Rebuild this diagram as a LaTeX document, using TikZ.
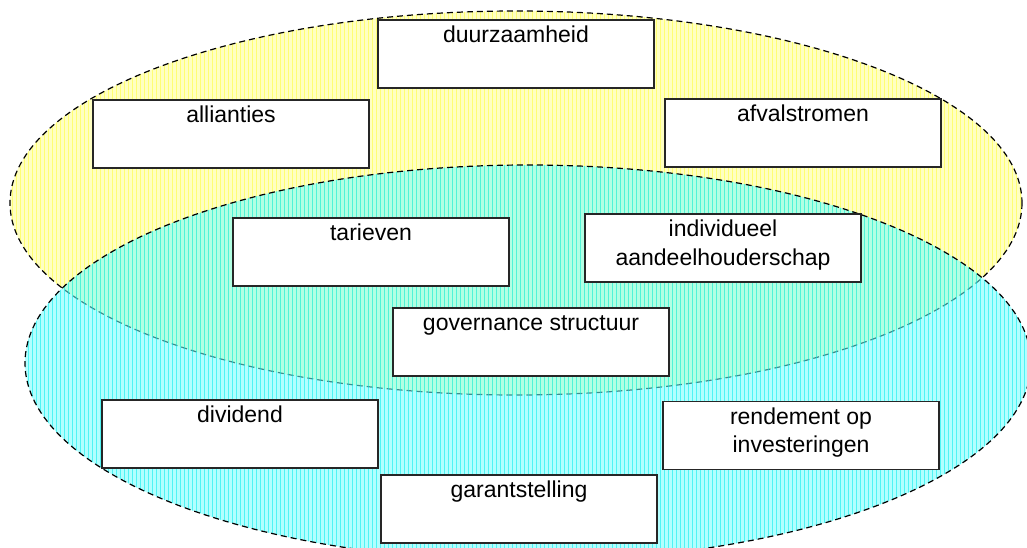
\documentclass[tikz,border=0pt]{standalone}
\usepackage{fontspec}
\setmainfont{Liberation Sans}

\begin{document}
\begin{tikzpicture}[x=1pt, y=-1pt,
        box/.style={draw=black!85, line width=1.3pt, fill=white,
            minimum width=276pt, minimum height=68pt, inner sep=0pt},
        boxtext/.style={anchor=north, inner sep=0pt, yshift=-6.5pt, align=center,
            font=\fontsize{23}{28.5}\selectfont},
        oneline/.style={boxtext, text height=16.5pt},
        rim/.style={line width=1.2pt, dash pattern=on 6pt off 4pt}]
        \definecolor{lightyellow}{rgb}{1.0, 1.0, 0.76}
        \definecolor{gridyellow}{rgb}{1.0, 1.0, 0.45}
        \definecolor{lightcyan}{rgb}{0.45, 1.0, 1.0}
        \definecolor{gridcyan}{rgb}{0.0, 0.92, 0.92}

        \useasboundingbox (0,0) rectangle (1027,548);

        % yellow field
        \fill[lightyellow] (516,203) ellipse (506 and 192);
        \begin{scope}
            \clip (516,203) ellipse (506 and 192);
            \draw[gridyellow, line width=0.5pt, step=4] (0,0) grid (1027,548);
        \end{scope}
        \draw[rim] (516,203) ellipse (506 and 192);

        % cyan field, lies over the yellow one
        \begin{scope}[opacity=0.55]
            \fill[lightcyan] (528,363) ellipse (503 and 198);
            \begin{scope}
                \clip (528,363) ellipse (503 and 198);
                \draw[gridcyan, line width=0.5pt, step=4] (0,0) grid (1027,548);
            \end{scope}
        \end{scope}
        \draw[rim] (528,363) ellipse (503 and 198);

        \node[box] (duur) at (516,54) {};
        \node[oneline] (duurtxt) at (duur.north) {duurzaamheid};

        \node[box] (alli) at (231,134) {};
        \node[oneline] (allitxt) at (alli.north) {allianties};

        \node[box] (afval) at (803,133) {};
        \node[oneline] (afvaltxt) at (afval.north) {afvalstromen};

        \node[box] (tarief) at (371,252) {};
        \node[oneline] (tarieftxt) at (tarief.north) {tarieven};

        \node[box] (aandeel) at (723,248) {};
        \node[boxtext] (aandeeltxt) at (aandeel.north) {individueel\\aandeelhouderschap};

        \node[box] (gov) at (531,342) {};
        \node[oneline] (govtxt) at (gov.north) {governance structuur};

        \node[box] (divid) at (240,434) {};
        \node[oneline] (dividtxt) at (divid.north) {dividend};

        \node[box] (rend) at (801,435.5) {};
        \node[boxtext] (rendtxt) at (rend.north) {rendement op\\investeringen};

        \node[box] (garant) at (519,509) {};
        \node[oneline] (garanttxt) at (garant.north) {garantstelling};
\end{tikzpicture}
\end{document}
